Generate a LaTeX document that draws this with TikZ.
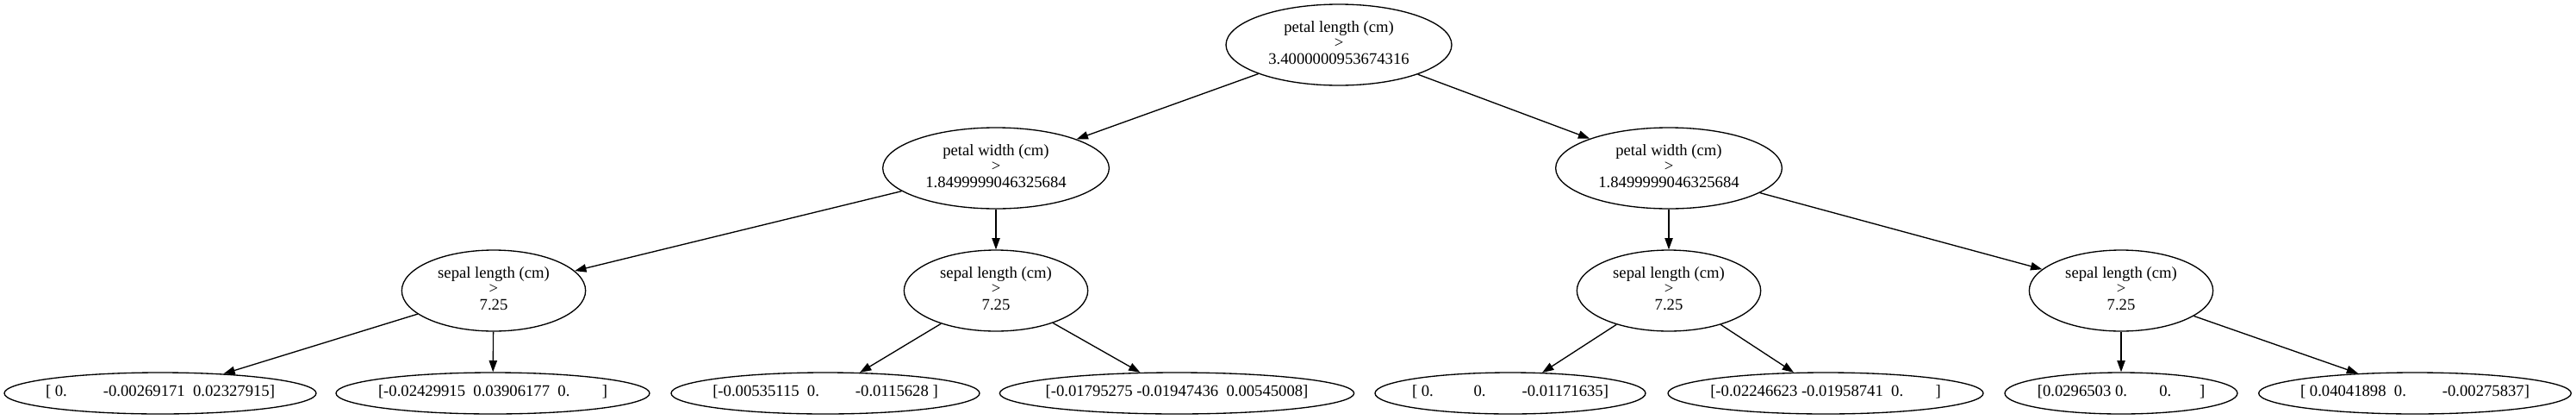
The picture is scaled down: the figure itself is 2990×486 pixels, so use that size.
\documentclass[tikz,border=0pt]{standalone}
\usepackage{fontspec}
\setmainfont{Liberation Serif}
\usetikzlibrary{shapes.geometric,arrows.meta}
\newcommand{\ztext}[1]{\makebox[0pt][c]{\begin{tabular}{@{}c@{}}#1\end{tabular}}}
\newcommand{\sps}[1]{\hspace*{#1\fontdimen2\font}}
\begin{document}
\begin{tikzpicture}[x=0.75pt,y=-0.75pt,
  every node/.style={font=\fontsize{14}{14}\selectfont},
  tnode/.style={draw, ellipse, line width=1pt, inner sep=0pt, minimum height=70.5pt},
  leaf/.style={draw, ellipse, line width=1pt, inner sep=0pt, minimum height=36pt},
  edge/.style={line width=1pt, -{Triangle[length=10pt,width=7pt]}}]
\useasboundingbox (0,0) rectangle (2990,486);
% internal nodes
\node[tnode, minimum width=196.5pt] (r) at (1554,52) {\ztext{petal length (cm)\\>\\3.4000000953674316}};
\node[tnode, minimum width=197pt] (a) at (1156,195) {\ztext{petal width (cm)\\>\\1.8499999046325684}};
\node[tnode, minimum width=197pt] (b) at (1937,195) {\ztext{petal width (cm)\\>\\1.8499999046325684}};
\node[tnode, minimum width=160pt] (a1) at (573,337) {\ztext{sepal length (cm)\\>\\7.25}};
\node[tnode, minimum width=160pt] (a2) at (1156,337) {\ztext{sepal length (cm)\\>\\7.25}};
\node[tnode, minimum width=160pt] (b1) at (1937,337) {\ztext{sepal length (cm)\\>\\7.25}};
\node[tnode, minimum width=160pt] (b2) at (2462,337) {\ztext{sepal length (cm)\\>\\7.25}};
% leaves
\node[leaf, minimum width=271.5pt] (l1) at (186,456) {\ztext{[\sps{1}0.\sps{9}-0.00269171\sps{2}0.02327915]}};
\node[leaf, minimum width=273pt] (l2) at (572,456) {\ztext{[-0.02429915\sps{2}0.03906177\sps{2}0.\sps{8}]}};
\node[leaf, minimum width=268.5pt] (l3) at (958,456) {\ztext{[-0.00535115\sps{2}0.\sps{9}-0.0115628\sps{1}]}};
\node[leaf, minimum width=308.5pt] (l4) at (1366,456) {\ztext{[-0.01795275\sps{1}-0.01947436\sps{2}0.00545008]}};
\node[leaf, minimum width=235.5pt] (l5) at (1753,456) {\ztext{[\sps{1}0.\sps{10}0.\sps{9}-0.01171635]}};
\node[leaf, minimum width=274.5pt] (l6) at (2119,456) {\ztext{[-0.02246623\sps{1}-0.01958741\sps{2}0.\sps{8}]}};
\node[leaf, minimum width=202.5pt] (l7) at (2462,456) {\ztext{[0.0296503\sps{1}0.\sps{8}0.\sps{7}]}};
\node[leaf, minimum width=272pt] (l8) at (2803,456) {\ztext{[\sps{1}0.04041898\sps{2}0.\sps{9}-0.00275837]}};
% edges
\draw[edge] (r) -- (a);
\draw[edge] (r) -- (b);
\draw[edge] (a) -- (a1);
\draw[edge] (a) -- (a2);
\draw[edge] (b) -- (b1);
\draw[edge] (b) -- (b2);
\draw[edge] (a1) -- (l1);
\draw[edge] (a1) -- (l2);
\draw[edge] (a2) -- (l3);
\draw[edge] (a2) -- (l4);
\draw[edge] (b1) -- (l5);
\draw[edge] (b1) -- (l6);
\draw[edge] (b2) -- (l7);
\draw[edge] (b2) -- (l8);
\end{tikzpicture}
\end{document}
